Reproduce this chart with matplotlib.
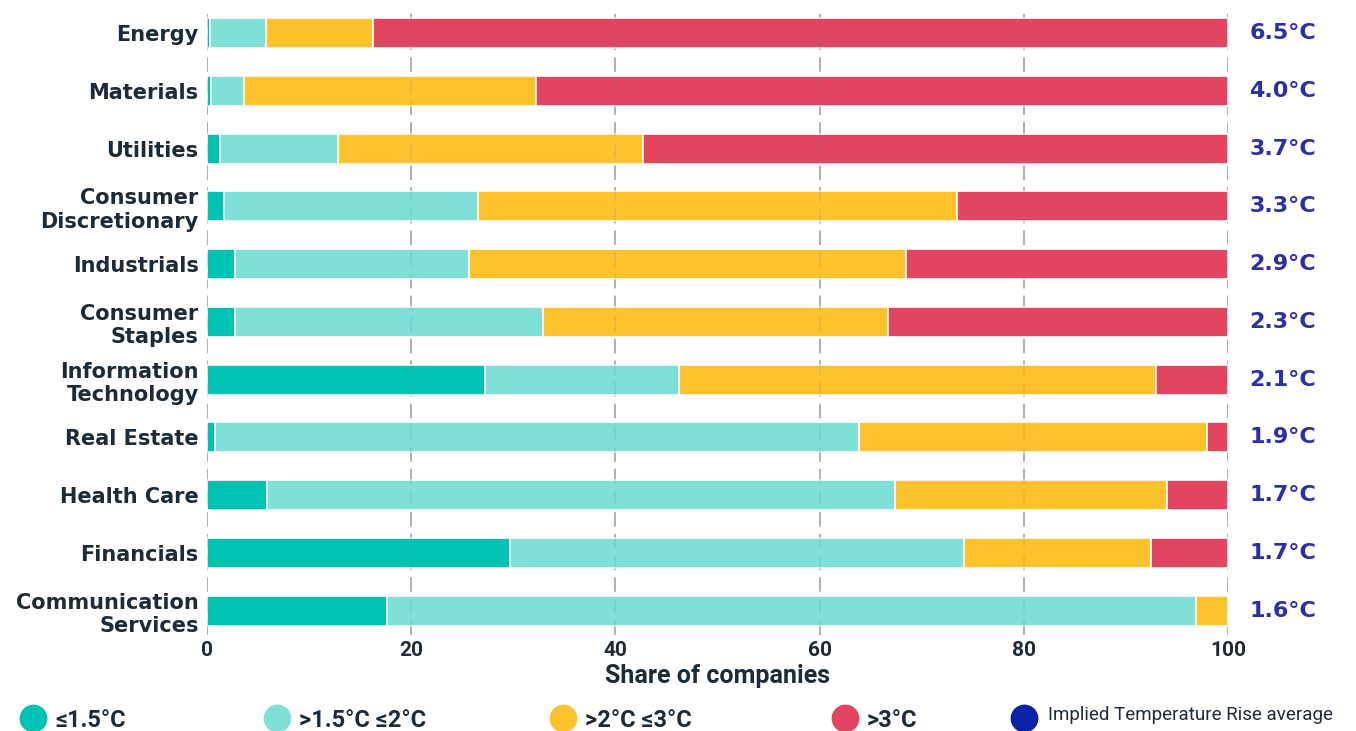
import matplotlib
matplotlib.use("Agg")
import matplotlib.pyplot as plt
from matplotlib.lines import Line2D
import numpy as np

sectors = ["Energy", "Materials", "Utilities", "Consumer\nDiscretionary", "Industrials",
           "Consumer\nStaples", "Information\nTechnology", "Real Estate", "Health Care",
           "Financials", "Communication\nServices"]
le_1_5 = [0.3, 0.4, 1.3, 1.7, 2.7, 2.7, 27.2, 0.8, 5.9, 29.7, 17.6]
b1_5_2 = [5.5, 3.2, 11.5, 24.8, 23.0, 30.2, 19.0, 63.1, 61.5, 44.4, 79.3]
b2_3 = [10.5, 28.6, 29.9, 47.0, 42.8, 33.8, 46.7, 34.0, 26.6, 18.4, 3.1]
gt_3 = [83.7, 67.8, 57.3, 26.5, 31.5, 33.3, 7.1, 2.1, 6.0, 7.5, 0.0]
itr = ["6.5°C", "4.0°C", "3.7°C", "3.3°C", "2.9°C", "2.3°C", "2.1°C", "1.9°C", "1.7°C", "1.7°C", "1.6°C"]
series_labels = ["≤1.5°C", ">1.5°C ≤2°C", ">2°C ≤3°C", ">3°C"]
colors = ["#00c2b2", "#7fe0d8", "#fec22d", "#e3445f"]
itr_label = "Implied Temperature Rise average"
itr_color = "#2b2fa8"
text_color = "#1c2b3a"

fig = plt.figure(figsize=(13.56, 7.31), dpi=100)
ax = fig.add_axes([207/1356, 1-635/731, 1021/1356, (635-10)/731])

y = np.arange(len(sectors))
left = np.zeros(len(sectors))
for vals, c in zip([le_1_5, b1_5_2, b2_3, gt_3], colors):
    v = np.array(vals)
    ax.barh(y, v, left=left, height=0.52, color=c, edgecolor="white", linewidth=1.2, zorder=2)
    left += v

ax.set_xlim(0, 100)
ax.set_ylim(10.42, -0.4)
ax.set_xticks([0, 20, 40, 60, 80, 100])
for xv in [0, 20, 40, 60, 80, 100]:
    ax.axvline(xv, color="#b4b4b4", linestyle=(0, (8, 4)), linewidth=1.3, zorder=1)
    ax.axvline(xv, color="#808080", linestyle=(0, (8, 4)), linewidth=1.3, alpha=0.18, zorder=3)
ax.set_yticks(y)
ax.set_yticklabels(sectors, fontsize=15, fontweight="bold", color=text_color,
                   family="DejaVu Sans", linespacing=1.2)
ax.tick_params(axis="y", length=0, pad=6)
ax.tick_params(axis="x", length=0, pad=4, labelsize=15, labelcolor=text_color)
for lbl in ax.get_xticklabels():
    lbl.set_fontweight("bold")
    lbl.set_family("Roboto")
ax.set_xlabel("Share of companies", fontsize=18, fontweight="bold", color=text_color,
              family="Roboto", labelpad=3)
for s in ax.spines.values():
    s.set_visible(False)

for yi, t in zip(y, itr):
    ax.text(102.1, yi, t, va="center", ha="left", fontsize=16, fontweight="bold",
            color=itr_color, family="DejaVu Sans", clip_on=False)

# legend
leg_x = [33, 277, 563, 845, 1024]
leg_y = 1 - 718/731
all_labels = series_labels + [itr_label]
all_colors = colors + ["#0a22a8"]
for i, (lx, lab, c) in enumerate(zip(leg_x, all_labels, all_colors)):
    fig.lines.append(Line2D([lx/1356], [leg_y], marker="o", markersize=19, color=c,
                            linestyle="none", transform=fig.transFigure))
    if i < 4:
        fig.text((lx+22)/1356, leg_y - 0.004, lab, va="center", ha="left", fontsize=17,
                 fontweight="bold", color=text_color, family="Roboto")
    else:
        fig.text((lx+24)/1356, leg_y + 0.004, lab, va="center", ha="left", fontsize=13.5,
                 color=text_color, family="Roboto")

fig.savefig("out.png", dpi=100)
